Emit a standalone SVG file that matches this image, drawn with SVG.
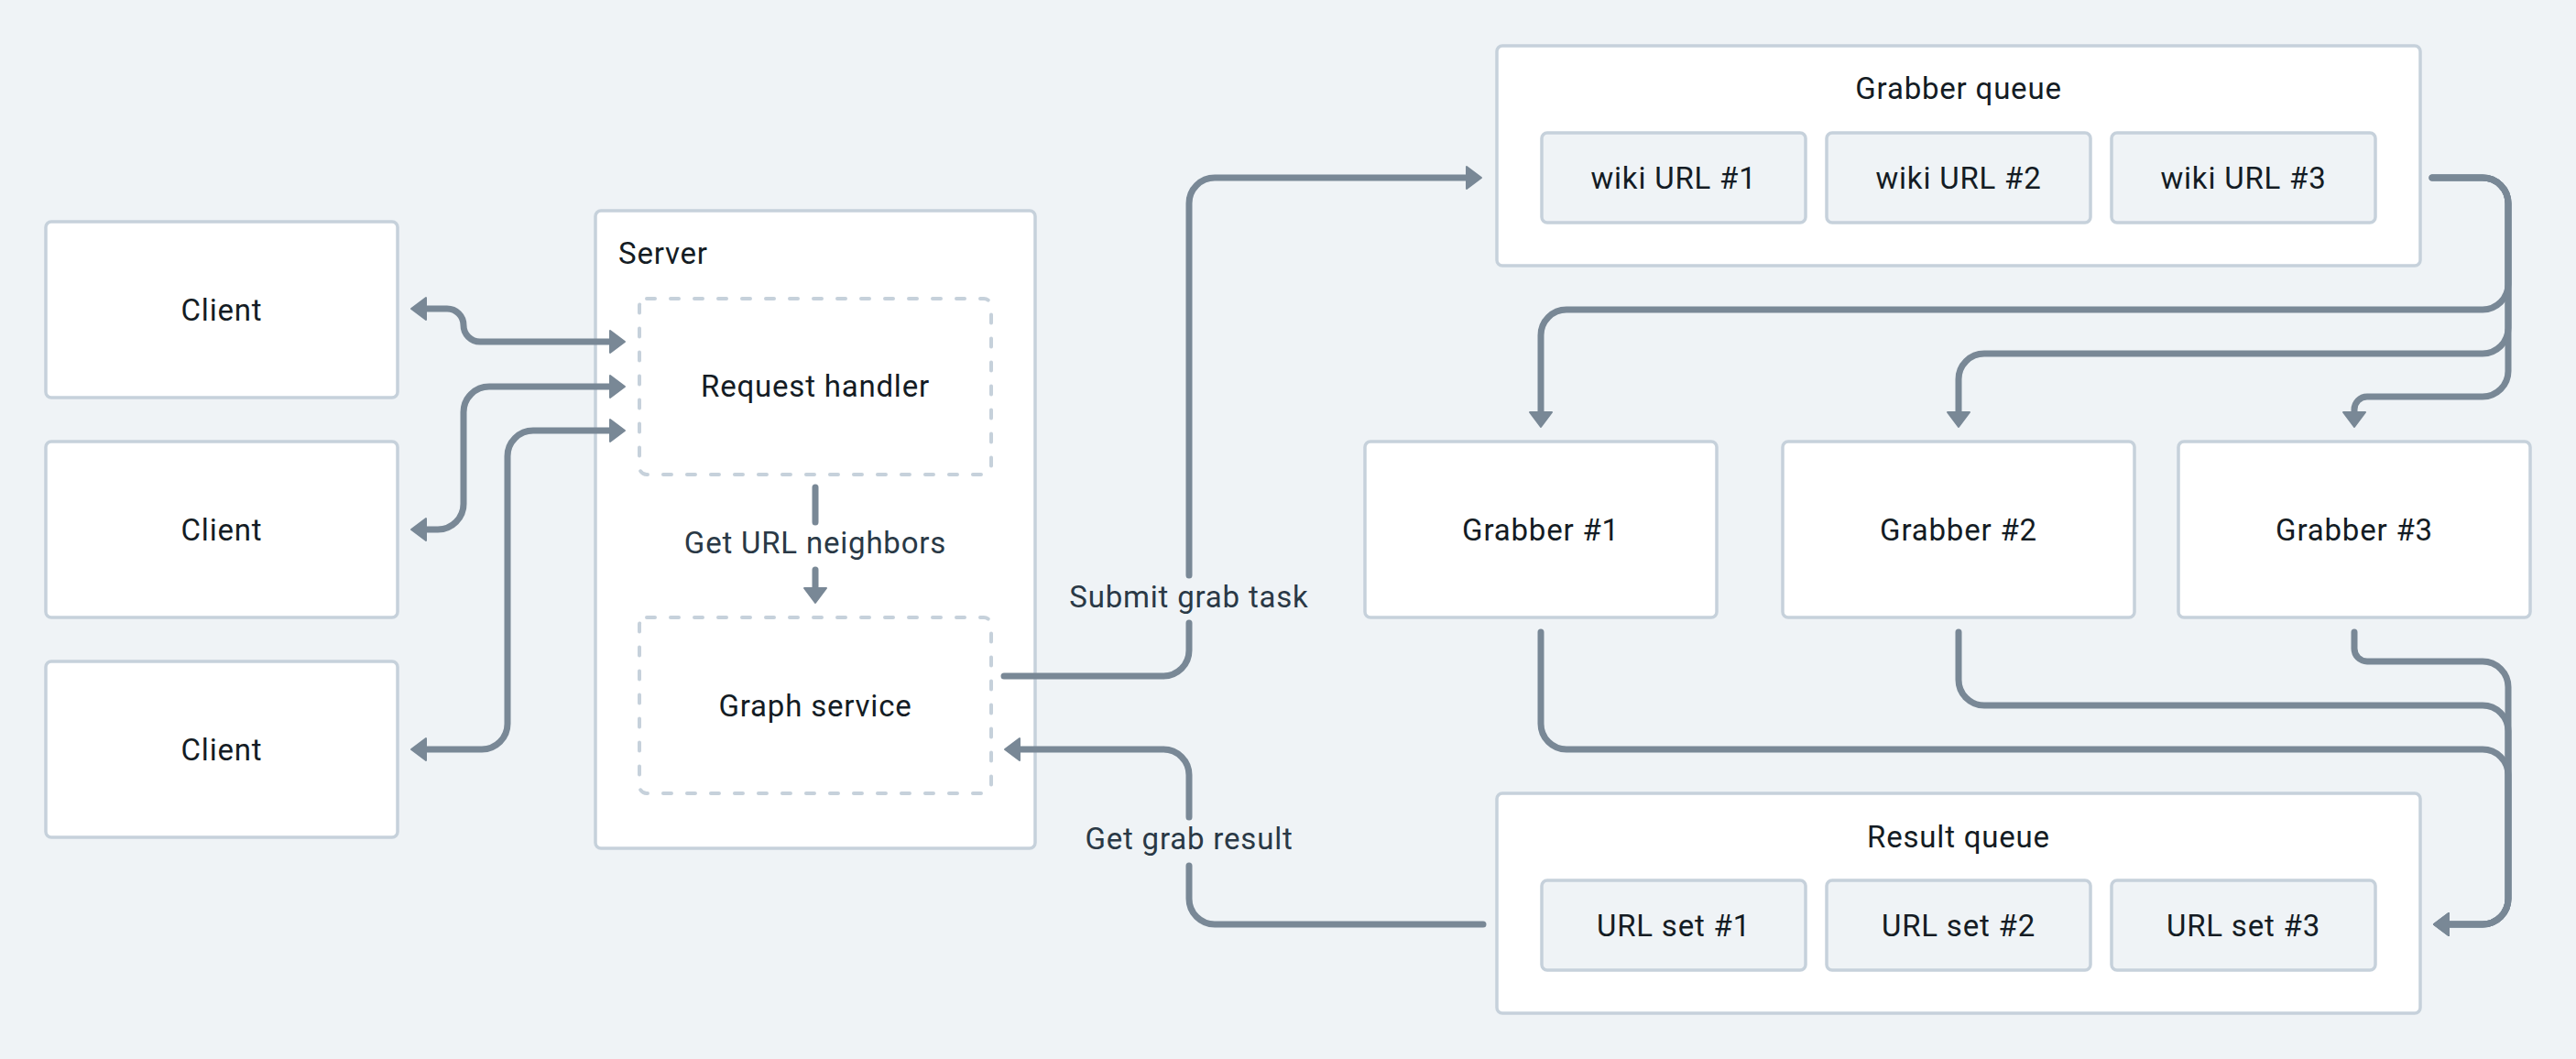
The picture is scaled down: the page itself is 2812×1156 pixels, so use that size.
<svg xmlns="http://www.w3.org/2000/svg" width="2812" height="1156" viewBox="0 0 2812 1156">
  <defs>
    <style>
      .bg { fill: #eff3f6; }
      .box { fill: #ffffff; stroke: #c6d1db; stroke-width: 3.5; }
      .item { fill: #eff3f6; stroke: #c6d1db; stroke-width: 3.5; }
      .dash { fill: #ffffff; stroke: #c6d1db; stroke-width: 4; stroke-dasharray: 9 17; stroke-linecap: round; }
      .t { font-family: Roboto, "Liberation Sans", sans-serif; font-size: 33px; fill: #141c24; text-anchor: middle; letter-spacing: 0.8px; }
      .lbl { font-family: Roboto, "Liberation Sans", sans-serif; font-size: 33px; fill: #2a3946; text-anchor: middle; letter-spacing: 0.8px; }
      .conn path { fill: none; stroke: #798896; stroke-width: 7; stroke-linecap: round; stroke-linejoin: round; }
    </style>
    <marker id="arr" viewBox="-2 -15 22 30" markerWidth="22" markerHeight="30" refX="2" refY="0" orient="auto-start-reverse" markerUnits="userSpaceOnUse">
      <path d="M0,-12 L16,0 L0,12 Z" fill="#798896" stroke="#798896" stroke-width="2" stroke-linejoin="round"/>
    </marker>
  </defs>

  <rect class="bg" x="0" y="0" width="2812" height="1156"/>

  <g id="client1"><rect class="box" x="50" y="242" width="384" height="192" rx="6"/><text class="t" x="242" y="349.5">Client</text></g>
  <g id="client2"><rect class="box" x="50" y="482" width="384" height="192" rx="6"/><text class="t" x="242" y="589.5">Client</text></g>
  <g id="client3"><rect class="box" x="50" y="722" width="384" height="192" rx="6"/><text class="t" x="242" y="829.5">Client</text></g>

  <g id="server">
    <rect class="box" x="650" y="230" width="480" height="696" rx="6"/>
    <text class="t" x="675" y="288" style="text-anchor:start">Server</text>
  </g>
  <g id="request-handler"><rect class="dash" x="698" y="326" width="384" height="192" rx="8"/><text class="t" x="890" y="433">Request handler</text></g>
  <g id="graph-service"><rect class="dash" x="698" y="674" width="384" height="192" rx="8"/><text class="t" x="890" y="781.5">Graph service</text></g>

  <g id="grabber-queue">
    <rect class="box" x="1634" y="50" width="1008" height="240" rx="6"/>
    <text class="t" x="2138" y="108">Grabber queue</text>
    <g id="wiki1"><rect class="item" x="1683" y="145" width="288" height="98" rx="6"/><text class="t" x="1827" y="205.5">wiki URL #1</text></g>
    <g id="wiki2"><rect class="item" x="1994" y="145" width="288" height="98" rx="6"/><text class="t" x="2138" y="205.5">wiki URL #2</text></g>
    <g id="wiki3"><rect class="item" x="2305" y="145" width="288" height="98" rx="6"/><text class="t" x="2449" y="205.5">wiki URL #3</text></g>
  </g>

  <g id="grabber1"><rect class="box" x="1490" y="482" width="384" height="192" rx="6"/><text class="t" x="1682" y="589.5">Grabber #1</text></g>
  <g id="grabber2"><rect class="box" x="1946" y="482" width="384" height="192" rx="6"/><text class="t" x="2138" y="589.5">Grabber #2</text></g>
  <g id="grabber3"><rect class="box" x="2378" y="482" width="384" height="192" rx="6"/><text class="t" x="2570" y="589.5">Grabber #3</text></g>

  <g id="result-queue">
    <rect class="box" x="1634" y="866" width="1008" height="240" rx="6"/>
    <text class="t" x="2138" y="925">Result queue</text>
    <g id="set1"><rect class="item" x="1683" y="961" width="288" height="98" rx="6"/><text class="t" x="1827" y="1021.5">URL set #1</text></g>
    <g id="set2"><rect class="item" x="1994" y="961" width="288" height="98" rx="6"/><text class="t" x="2138" y="1021.5">URL set #2</text></g>
    <g id="set3"><rect class="item" x="2305" y="961" width="288" height="98" rx="6"/><text class="t" x="2449" y="1021.5">URL set #3</text></g>
  </g>

  <g id="connectors" class="conn">
    <path d="M463 337 H488 A18 18 0 0 1 506 355 A18 18 0 0 0 524 373 H668" marker-start="url(#arr)" marker-end="url(#arr)"/>
    <path d="M463 578 H478 A28 28 0 0 0 506 550 V450 A28 28 0 0 1 534 422 H668" marker-start="url(#arr)" marker-end="url(#arr)"/>
    <path d="M463 818 H526 A28 28 0 0 0 554 790 V498 A28 28 0 0 1 582 470 H668" marker-start="url(#arr)" marker-end="url(#arr)"/>

    <path d="M890 532 V570"/>
    <path d="M890 622 V644" marker-end="url(#arr)"/>

    <path d="M1096 738 H1270 A28 28 0 0 0 1298 710 V680"/>
    <path d="M1298 628 V222 A28 28 0 0 1 1326 194 H1603" marker-end="url(#arr)"/>

    <path d="M1619 1009 H1326 A28 28 0 0 1 1298 981 V945"/>
    <path d="M1298 892 V846 A28 28 0 0 0 1270 818 H1111" marker-end="url(#arr)"/>

    <path d="M2655 194 H2710 A28 28 0 0 1 2738 222 V310 A28 28 0 0 1 2710 338 H1710 A28 28 0 0 0 1682 366 V452" marker-end="url(#arr)"/>
    <path d="M2655 194 H2710 A28 28 0 0 1 2738 222 V358 A28 28 0 0 1 2710 386 H2166 A28 28 0 0 0 2138 414 V452" marker-end="url(#arr)"/>
    <path d="M2655 194 H2710 A28 28 0 0 1 2738 222 V405 A28 28 0 0 1 2710 433 H2584 A14 14 0 0 0 2570 447 V452" marker-end="url(#arr)"/>

    <path d="M1682 690 V790 A28 28 0 0 0 1710 818 H2710 A28 28 0 0 1 2738 846 V981 A28 28 0 0 1 2710 1009 H2671" marker-end="url(#arr)"/>
    <path d="M2138 690 V742 A28 28 0 0 0 2166 770 H2710 A28 28 0 0 1 2738 798 V981 A28 28 0 0 1 2710 1009 H2671" marker-end="url(#arr)"/>
    <path d="M2570 690 V708 A14 14 0 0 0 2584 722 H2710 A28 28 0 0 1 2738 750 V981 A28 28 0 0 1 2710 1009 H2671" marker-end="url(#arr)"/>
  </g>

  <g id="labels">
    <text class="lbl" x="890" y="604">Get URL neighbors</text>
    <text class="lbl" x="1298" y="663">Submit grab task</text>
    <text class="lbl" x="1298" y="927">Get grab result</text>
  </g>
</svg>
